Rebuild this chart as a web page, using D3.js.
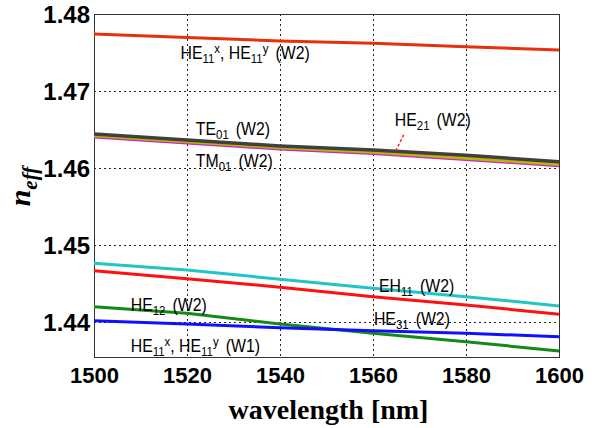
<!DOCTYPE html>
<html>
<head>
<meta charset="utf-8">
<script src="https://cdn.jsdelivr.net/npm/d3@7"></script>
<style>
  html, body { margin: 0; padding: 0; background: #fff; }
  svg { display: block; }
  .tick text { font-family: Arial, "Liberation Sans", sans-serif; font-weight: bold; fill: #000; }
  .lbl { font-family: "Liberation Sans", Arial, sans-serif; font-size: 18px; fill: #000; }
</style>
</head>
<body>
<div id="chart"></div>
<script>
const wavelengths = [1500, 1520, 1540, 1560, 1580, 1600];

const he11W2 = [1.47740, 1.47695, 1.47649, 1.47619, 1.47575, 1.47532];
const tm01W2 = [1.46403, 1.46325, 1.46247, 1.46188, 1.46110, 1.46030];
const he21W2 = [1.46422, 1.46344, 1.46266, 1.46208, 1.46130, 1.46048];
const te01W2 = [1.46442, 1.46364, 1.46286, 1.46234, 1.46165, 1.46082];
const eh11W2 = [1.44762, 1.44675, 1.44555, 1.44438, 1.44329, 1.44208];
const he31W2 = [1.44666, 1.44562, 1.44451, 1.44329, 1.44221, 1.44100];
const he12W2 = [1.44199, 1.44113, 1.43974, 1.43853, 1.43744, 1.43623];
const he11W1 = [1.44017, 1.43974, 1.43926, 1.43887, 1.43853, 1.43809];

const xTicks = [1500, 1520, 1540, 1560, 1580, 1600];
const yTicks = [1.44, 1.45, 1.46, 1.47, 1.48];

const series = [
  { name: "HE11 (W2)", values: he11W2, color: "#e8300a", width: 3 },
  { name: "TM01 (W2)", values: tm01W2, color: "#cc22cc", width: 3 },
  { name: "HE21 (W2)", values: he21W2, color: "#b8b800", width: 3.5 },
  { name: "TE01 (W2)", values: te01W2, color: "#404040", width: 3.5 },
  { name: "EH11 (W2)", values: eh11W2, color: "#22c4c4", width: 3 },
  { name: "HE31 (W2)", values: he31W2, color: "#ff1010", width: 3 },
  { name: "HE12 (W2)", values: he12W2, color: "#138a13", width: 3 },
  { name: "HE11 (W1)", values: he11W1, color: "#1010ff", width: 3 },
];

// label anchors in data units
const labels = [
  { at: [1518.6, 1.47410], parts: [["HE"], ["11", "sub"], ["x", "sup"], [", HE"], ["11", "sub"], ["y", "sup"], ["(W2)", "gap"]] },
  { at: [1521.9, 1.46429], parts: [["TE"], ["01", "sub"], ["(W2)", "gap"]] },
  { at: [1521.9, 1.46013], parts: [["TM"], ["01", "sub"], ["(W2)", "gap"]] },
  { at: [1564.7, 1.46545], parts: [["HE"], ["21", "sub"], ["(W2)", "gap"]] },
  { at: [1561.3, 1.44390], parts: [["EH"], ["11", "sub"], ["(W2)", "gap"]] },
  { at: [1560.2, 1.43961], parts: [["HE"], ["31", "sub"], ["(W2)", "gap"]] },
  { at: [1507.9, 1.44143], parts: [["HE"], ["12", "sub"], ["(W2)", "gap"]] },
  { at: [1507.9, 1.43610], parts: [["HE"], ["11", "sub"], ["x", "sup"], [", HE"], ["11", "sub"], ["y", "sup"], ["(W1)", "gap"]] },
];

const width = 597, height = 428;
const margin = { top: 14, right: 38, bottom: 71, left: 94 };

const svg = d3.select("#chart").append("svg")
  .attr("width", width).attr("height", height);

const x = d3.scaleLinear().domain([1500, 1600]).range([margin.left, width - margin.right]);
const y = d3.scaleLinear().domain([1.43545, 1.48]).range([height - margin.bottom, margin.top]);

const [x0, x1] = x.range();
const [y0, y1] = y.range();

// grid
const grid = svg.append("g").attr("stroke", "#222").attr("stroke-width", 1).attr("stroke-dasharray", "2,3");
grid.selectAll("line.v").data(xTicks.slice(1, -1)).join("line")
  .attr("x1", d => x(d) + 0.5).attr("x2", d => x(d) + 0.5).attr("y1", y1).attr("y2", y0);
grid.selectAll("line.h").data(yTicks.slice(0, -1)).join("line")
  .attr("x1", x0).attr("x2", x1).attr("y1", d => Math.round(y(d)) + 0.5).attr("y2", d => Math.round(y(d)) + 0.5);

// frame
svg.append("rect")
  .attr("x", x0 + 0.5).attr("y", y1 + 0.5)
  .attr("width", x1 - x0).attr("height", y0 - y1)
  .attr("fill", "none").attr("stroke", "#333").attr("stroke-width", 1);

// lines
const line = d3.line().x((d, i) => x(wavelengths[i])).y(d => y(d));
svg.append("g").selectAll("path").data(series).join("path")
  .attr("d", d => line(d.values))
  .attr("fill", "none")
  .attr("stroke", d => d.color)
  .attr("stroke-width", d => d.width);

// axes
const gx = svg.append("g").attr("transform", `translate(0,${y0})`)
  .call(d3.axisBottom(x).tickValues(xTicks).tickSize(0).tickPadding(10).tickFormat(d3.format("d")));
gx.select(".domain").remove();
gx.selectAll("text").attr("font-size", 22);

const gy = svg.append("g").attr("transform", `translate(${x0},0)`)
  .call(d3.axisLeft(y).tickValues(yTicks).tickSize(0).tickPadding(4).tickFormat(d3.format(".2f")));
gy.select(".domain").remove();
gy.selectAll("text").attr("font-size", 24).attr("dy", "0.36em");

// axis titles
svg.append("text")
  .attr("x", (x0 + x1) / 2 + 2).attr("y", 419)
  .attr("text-anchor", "middle")
  .attr("font-family", "'Liberation Serif', 'Times New Roman', serif")
  .attr("font-weight", "bold").attr("font-size", 28)
  .text("wavelength [nm]");

const yt = svg.append("text")
  .attr("transform", `translate(30,${(y0 + y1) / 2 + 1}) rotate(-90)`)
  .attr("text-anchor", "middle")
  .attr("font-family", "'Liberation Serif', 'Times New Roman', serif")
  .attr("font-weight", "bold").attr("font-style", "italic").attr("font-size", 30);
yt.append("tspan").text("n");
yt.append("tspan").attr("font-size", 21).attr("dy", 7).text("eff");

// annotations (narrow face: squeeze horizontally)
labels.forEach(l => {
  const t = svg.append("text").attr("class", "lbl")
    .attr("transform", `translate(${x(l.at[0])},${y(l.at[1])}) scale(0.88,1)`);
  let shift = 0;
  l.parts.forEach(([s, kind]) => {
    const target = kind === "sub" ? 4 : kind === "sup" ? -6 : 0;
    const ts = t.append("tspan").attr("dy", target - shift).text(s);
    if (kind === "sub" || kind === "sup") ts.attr("font-size", 13);
    if (kind === "gap") ts.attr("dx", 8);
    shift = target;
  });
});

// HE21 leader
svg.append("line")
  .attr("x1", x(1566.6)).attr("y1", y(1.46431))
  .attr("x2", x(1564.7)).attr("y2", y(1.46198))
  .attr("stroke", "#ff2020").attr("stroke-width", 1.5).attr("stroke-dasharray", "3,2");
</script>
</body>
</html>
